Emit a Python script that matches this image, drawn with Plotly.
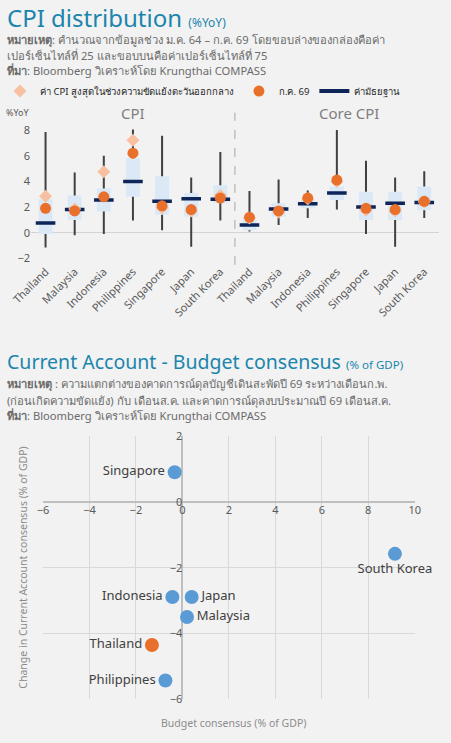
import plotly.graph_objects as go

# ---- data -------------------------------------------------------------
countries = ["Thailand", "Malaysia", "Indonesia", "Philippines", "Singapore", "Japan", "South Korea"]

# CPI (%YoY), Jan-21 .. Jul-26
cpi_low = [-1.15, -0.2, -0.1, 0.95, 0.2, -1.1, 0.95]
cpi_q1 = [-0.1, 1.0, 1.65, 2.8, 1.4, 1.25, 2.3]
cpi_med = [0.75, 1.8, 2.55, 4.0, 2.45, 2.65, 2.6]
cpi_q3 = [2.6, 2.9, 3.45, 5.8, 4.4, 3.1, 3.7]
cpi_high = [7.85, 4.7, 6.0, 8.05, 7.55, 4.3, 6.3]
cpi_jul = [1.9, 1.7, 2.8, 6.2, 2.1, 1.8, 2.7]
cpi_peak = [2.85, 1.85, 4.75, 7.2, 1.95, 1.7, 2.9]

# Core CPI (%YoY)
core_low = [0.1, 0.6, 1.15, 1.8, -0.1, -1.1, 1.15]
core_q1 = [0.2, 1.25, 1.9, 2.55, 1.0, 1.0, 1.75]
core_med = [0.6, 1.85, 2.25, 3.1, 2.0, 2.3, 2.35]
core_q3 = [1.0, 2.3, 2.55, 3.6, 3.2, 3.2, 3.6]
core_high = [3.25, 4.15, 3.3, 8.0, 5.6, 4.3, 4.8]
core_jul = [1.2, 1.7, 2.7, 4.1, 1.9, 1.8, 2.45]
core_peak = [1.15, 1.6, 2.65, 4.0, 1.75, 1.7, 2.4]

# Current account change vs budget consensus (% of GDP)
ca_countries = ["Singapore", "South Korea", "Indonesia", "Japan", "Malaysia", "Thailand", "Philippines"]
budget = [-0.33, 9.15, -0.43, 0.4, 0.2, -1.31, -0.73]
ca_change = [0.9, -1.58, -2.89, -2.89, -3.5, -4.35, -5.43]
label_pos = ["middle left", "bottom center", "middle left", "middle right",
             "middle right", "middle left", "middle left"]

# ---- styling ----------------------------------------------------------
FONT = "Noto Sans, sans-serif"
BG = "#f2f2f2"
TITLE_C = "#1a85ad"
TXT = "#595959"
NOTE = "#6b6b6b"
ORANGE = "#e8702a"
PALE = "#f7c0a0"
NAVY = "#0d2559"
BOXC = "#dbe8f6"
BLUE = "#5b9bd5"

x_top = list(range(2 * len(countries)))
low = cpi_low + core_low
q1 = cpi_q1 + core_q1
med = cpi_med + core_med
q3 = cpi_q3 + core_q3
high = cpi_high + core_high
jul = cpi_jul + core_jul
peak = cpi_peak + core_peak

fig = go.Figure()

# boxes (25th-75th percentile)
fig.add_trace(go.Bar(x=x_top, y=[b - a for a, b in zip(q1, q3)], base=q1, width=0.48,
                     marker=dict(color=BOXC, line=dict(width=0)), showlegend=False,
                     hoverinfo="skip", xaxis="x", yaxis="y"))

# whiskers (min-max), split around the box
wx, wy = [], []
for i in x_top:
    wx += [i, i, None, i, i, None]
    wy += [low[i], q1[i], None, q3[i], high[i], None]
fig.add_trace(go.Scatter(x=wx, y=wy, mode="lines", line=dict(color="#404040", width=2),
                         showlegend=False, hoverinfo="skip", xaxis="x", yaxis="y"))

# median
fig.add_trace(go.Scatter(x=x_top, y=med, mode="markers", showlegend=False,
                         marker=dict(symbol="line-ew", size=14, line=dict(color=NAVY, width=3.5)),
                         xaxis="x", yaxis="y"))
# peak during Middle East conflict
fig.add_trace(go.Scatter(x=x_top, y=peak, mode="markers", name="ค่า CPI สูงสุดในช่วงความขัดแย้งตะวันออกกลาง",
                         marker=dict(symbol="diamond", size=10, color=PALE), legendrank=1,
                         xaxis="x", yaxis="y"))
# July 2026
fig.add_trace(go.Scatter(x=x_top, y=jul, mode="markers", name="ก.ค. 69",
                         marker=dict(symbol="circle", size=11, color=ORANGE), legendrank=2,
                         xaxis="x", yaxis="y"))
# legend entry for median
fig.add_trace(go.Scatter(x=[None], y=[None], mode="lines", name="ค่ามัธยฐาน",
                         line=dict(color=NAVY, width=4), legendrank=3, xaxis="x", yaxis="y"))

# scatter chart
fig.add_trace(go.Scatter(x=budget, y=ca_change, mode="markers+text", text=ca_countries,
                         textposition=label_pos, showlegend=False, cliponaxis=False,
                         textfont=dict(size=13, color="#404040", family=FONT),
                         marker=dict(size=14, color=[ORANGE if c == "Thailand" else BLUE for c in ca_countries]),
                         xaxis="x2", yaxis="y2"))

# ---- layout -----------------------------------------------------------
y2_dom = [0.0588, 0.4132]
x2_dom = [0.0953, 0.9195]
x2_range = [-6, 10]
y2_range = [-6, 2]
x_axis_pos = y2_dom[0] + (0 - y2_range[0]) / (y2_range[1] - y2_range[0]) * (y2_dom[1] - y2_dom[0])
y_axis_pos = x2_dom[0] + (0 - x2_range[0]) / (x2_range[1] - x2_range[0]) * (x2_dom[1] - x2_dom[0])

fig.update_layout(
    width=451, height=743, margin=dict(l=0, r=0, t=0, b=0, autoexpand=False),
    paper_bgcolor=BG, plot_bgcolor=BG,
    font=dict(family=FONT, size=11, color=TXT),
    barmode="overlay",
    showlegend=True,
    legend=dict(orientation="h", x=0, y=0.8775, yanchor="middle", xanchor="left",
                font=dict(size=9.5, color="#262626"), bgcolor="rgba(0,0,0,0)",
                itemwidth=30, tracegroupgap=0),
    xaxis=dict(domain=[0.0687, 0.973], range=[-0.5, 13.5], tickmode="array",
               tickvals=x_top, ticktext=countries * 2, tickangle=-45,
               showgrid=False, zeroline=False, showline=False, ticks="",
               tickfont=dict(size=11, color=TXT), anchor="y", automargin=False),
    yaxis=dict(domain=[0.6471, 0.8301], range=[-2.3, 8.3], tickvals=[-2, 0, 2, 4, 6, 8],
               showgrid=False, zeroline=True, zerolinecolor="#d3d3d3", zerolinewidth=1,
               showline=False, ticks="", tickfont=dict(size=11, color=TXT), anchor="x",
               automargin=False),
    xaxis2=dict(domain=x2_dom, range=x2_range, dtick=2, showgrid=True, gridcolor="#d9d9d9",
                zeroline=True, zerolinecolor="#bfbfbf", showline=False, ticks="",
                anchor="free", position=x_axis_pos, tickfont=dict(size=11, color=TXT),
                automargin=False),
    yaxis2=dict(domain=y2_dom, range=y2_range, dtick=2, showgrid=True, gridcolor="#d9d9d9",
                zeroline=True, zerolinecolor="#bfbfbf", showline=False, ticks="",
                anchor="free", position=y_axis_pos, tickfont=dict(size=11, color=TXT),
                automargin=False),
)

# dashed separator between CPI and Core CPI
fig.add_shape(type="line", xref="x", yref="y domain", x0=6.5, x1=6.5, y0=-0.02, y1=1.1,
              line=dict(color="#a6a6a6", width=1, dash="dash"))


def note(text, ypx, size=11.2, color=NOTE):
    return dict(x=0.01, y=1 - ypx / 743, xref="paper", yref="paper", xanchor="left",
                yanchor="middle", text=text, font=dict(size=size, color=color), showarrow=False)


ann = [
    note("CPI distribution <span style='font-size:12px'>(%YoY)</span>", 17, size=24, color=TITLE_C),
    note("<b>หมายเหตุ</b>: คำนวณจากข้อมูลช่วง ม.ค. 64 – ก.ค. 69 โดยขอบล่างของกล่องคือค่า", 40),
    note("เปอร์เซ็นไทล์ที่ 25 และขอบบนคือค่าเปอร์เซ็นไทล์ที่ 75", 55),
    note("<b>ที่มา</b>: Bloomberg วิเคราะห์โดย Krungthai COMPASS", 70),
    note("Current Account - Budget consensus <span style='font-size:11.5px'>(% of GDP)</span>", 362,
         size=19.5, color=TITLE_C),
    note("<b>หมายเหตุ</b> : ความแตกต่างของคาดการณ์ดุลบัญชีเดินสะพัดปี 69 ระหว่างเดือนก.พ.", 384),
    note("(ก่อนเกิดความขัดแย้ง) กับ เดือนส.ค. และคาดการณ์ดุลงบประมาณปี 69 เดือนส.ค.", 400),
    note("<b>ที่มา</b>: Bloomberg วิเคราะห์โดย Krungthai COMPASS", 416),
]
ann.append(dict(x=0.008, y=0.848, xref="paper", yref="paper", xanchor="left", yanchor="middle",
                text="%YoY", font=dict(size=9, color=TXT), showarrow=False))
ann.append(dict(x=3, y=0.848, xref="x", yref="paper", xanchor="center", yanchor="middle",
                text="CPI", font=dict(size=15, color="#7f7f7f"), showarrow=False))
ann.append(dict(x=10.4, y=0.848, xref="x", yref="paper", xanchor="center", yanchor="middle",
                text="Core CPI", font=dict(size=15, color="#7f7f7f"), showarrow=False))
ann.append(dict(x=0.518, y=0.027, xref="paper", yref="paper", xanchor="center", yanchor="middle",
                text="Budget consensus (% of GDP)", font=dict(size=10.5, color="#8c8c8c"), showarrow=False))
ann.append(dict(x=0.051, y=0.236, xref="paper", yref="paper", xanchor="center", yanchor="middle",
                text="Change in Current Account consensus (% of GDP)", textangle=-90,
                font=dict(size=10.5, color="#8c8c8c"), showarrow=False))
fig.update_layout(annotations=ann)

fig.write_html("out.html", config={"displayModeBar": False},
               post_script="document.body.style.margin = '0';")
